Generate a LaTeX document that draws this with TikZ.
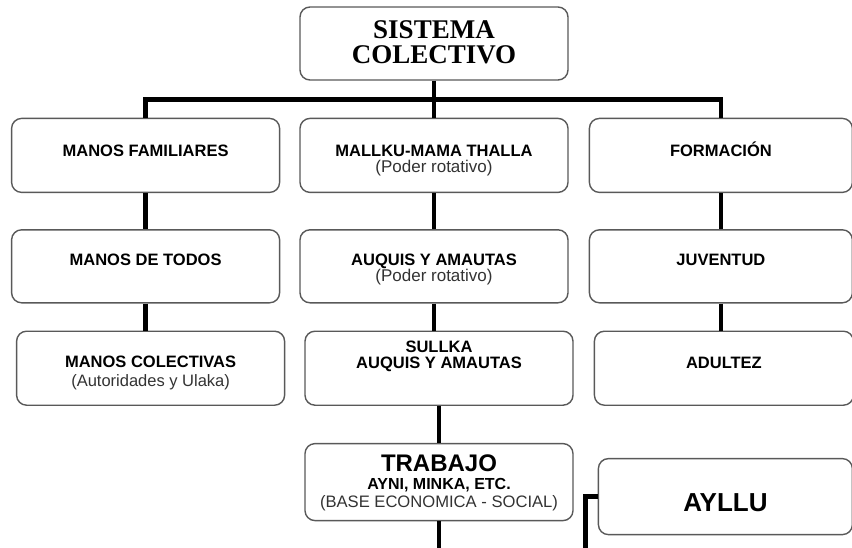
\documentclass[tikz,border=0pt]{standalone}
\usepackage{fontspec}
\setmainfont{Liberation Sans}
\newfontfamily\titlefont{Liberation Serif}
\usetikzlibrary{positioning}

\newcommand{\subtxt}[2][17]{{\mdseries\color{black!80}\fontsize{#1}{16}\selectfont #2}}

\begin{document}
\begin{tikzpicture}[
    box/.style={rectangle, rounded corners=10pt, draw=black!65, line width=1.4pt, fill=white, inner sep=0pt, align=center, minimum width=268pt, minimum height=74pt, font=\bfseries\fontsize{16.5}{16}\selectfont},
    link/.style={line width=4.5pt}
]
\useasboundingbox (0,0) rectangle (852pt,-547pt);

% Nodes
\node (Sistema) [box, minimum height=73pt, text height=56.6pt, text depth=16.4pt, font=\titlefont\bfseries\fontsize{27}{25}\selectfont] at (434pt,-43.5pt) {SISTEMA\\COLECTIVO};

\node (Mallku) [box, below=37pt of Sistema, text height=54pt, text depth=20pt] {MALLKU-MAMA THALLA\\\subtxt{(Poder rotativo)}};
\node (ManosFam) [box, left=19pt of Mallku, text height=38pt, text depth=36pt] {MANOS FAMILIARES};
\node (Formacion) [box, right=20pt of Mallku, minimum width=263pt, text height=38pt, text depth=36pt] {FORMACIÓN};

\node (Auquis) [box, below=36pt of Mallku, minimum height=73pt, text height=51.5pt, text depth=21.5pt] {AUQUIS Y AMAUTAS\\\subtxt{(Poder rotativo)}};
\node (ManosTodos) [box, below=36pt of ManosFam, minimum height=73pt, text height=36pt, text depth=37pt] {MANOS DE TODOS};
\node (Juventud) [box, below=36pt of Formacion, minimum width=263pt, minimum height=73pt, text height=36pt, text depth=37pt] {JUVENTUD};

\node (Sullka) [box, below=27pt of Auquis, xshift=5pt, text height=37pt, text depth=37pt] {SULLKA\\AUQUIS Y AMAUTAS};
\node (ManosCol) [box, below=27pt of ManosTodos, xshift=5pt, text height=55pt, text depth=19pt, font=\bfseries\fontsize{16.5}{19}\selectfont] {MANOS COLECTIVAS\\\subtxt[16.5]{(Autoridades y Ulaka)}};
\node (Adultez) [box, below=27pt of Juventud, xshift=3pt, minimum width=259pt, text height=37pt, text depth=37pt] {ADULTEZ};

\node (Trabajo) [box, below=37pt of Sullka, minimum height=77pt, text height=63.6pt, text depth=13.4pt, font=\bfseries\fontsize{24}{18}\selectfont] {TRABAJO\\{\fontsize{16}{17}\selectfont AYNI, MINKA, ETC.}\\\subtxt[16.6]{(BASE ECONOMICA - SOCIAL)}};
\node (Ayllu) [box, right=24pt of Trabajo, yshift=-14.5pt, minimum width=254pt, minimum height=76pt, text height=53pt, text depth=23pt, font=\bfseries\fontsize{26}{26}\selectfont] {AYLLU};

% Connectors
\coordinate (Bar) at ([yshift=18pt]Mallku.north);
\draw [link] (Sistema) -- (Bar);
\draw [link] (ManosFam.north) |- (Bar) -| (Formacion.north);
\draw [link] (Bar) -- (Mallku);

\draw [link] (ManosFam) -- (ManosTodos);
\draw [link] (Mallku) -- (Auquis);
\draw [link] (Formacion) -- (Juventud);

\draw [link] (ManosTodos.south) -- (ManosTodos.south |- ManosCol.north);
\draw [link] (Auquis.south) -- (Auquis.south |- Sullka.north);
\draw [link] (Juventud.south) -- (Juventud.south |- Adultez.north);

\draw [link] (Sullka) -- (Trabajo);
\draw [link] (Trabajo.south) -- ++(0,-30pt) -| ([xshift=-12pt]Ayllu.west) -- (Ayllu.west);

\end{tikzpicture}
\end{document}
